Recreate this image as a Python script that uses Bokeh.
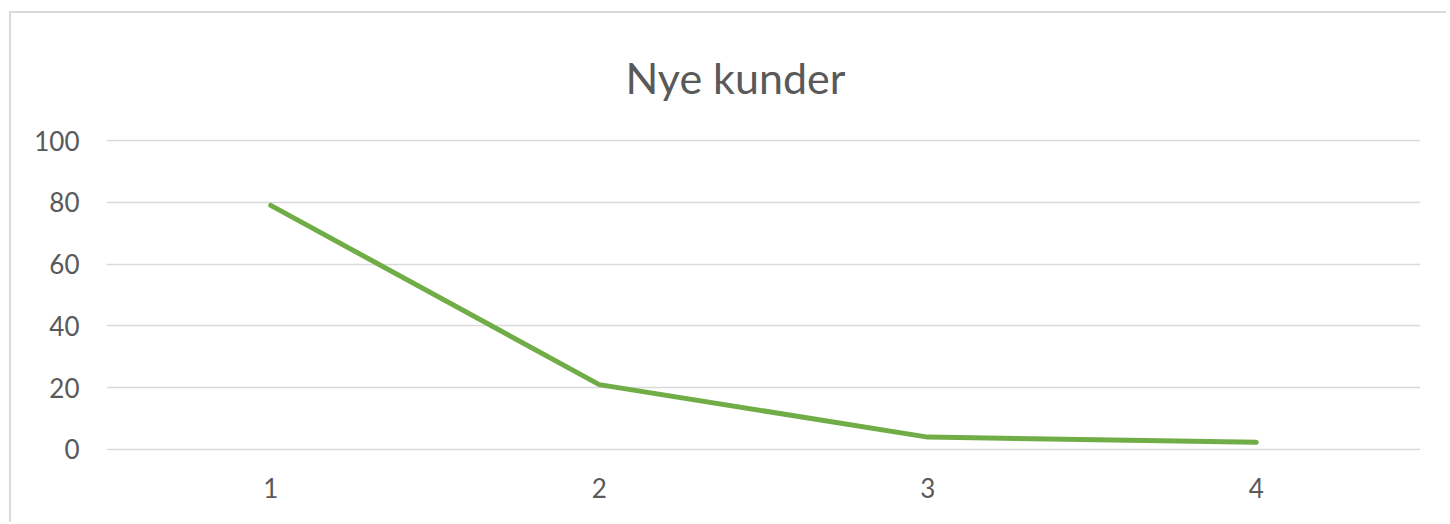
from bokeh.plotting import figure
from bokeh.embed import file_html
from bokeh.resources import INLINE
from bokeh.models import Range1d, FactorRange

categories = ["1", "2", "3", "4"]
values = [79, 21, 4, 2.3]
y_ticks = [0, 20, 40, 60, 80, 100]
title_text = "Nye kunder"

FONT = "Lato"
GRAY = "#595959"

p = figure(
    width=1437, height=511,
    x_range=FactorRange(*categories, range_padding=0),
    y_range=Range1d(-0.33, 100.33),
    output_backend="svg", toolbar_location=None,
    min_border_left=95, min_border_right=28, min_border_top=126, min_border_bottom=74,
    title=title_text,
)
p.styles = {
    "border-top": "2px solid #d9d9d9",
    "border-left": "2px solid #d9d9d9",
    "margin-left": "9px",
    "margin-top": "11px",
}
p.title.align = "left"
p.title.vertical_align = "top"
p.title.offset = 519
p.title.standoff = 70
p.title.text_font = FONT
p.title.text_font_size = "43px"
p.title.text_font_style = "normal"
p.title.text_color = GRAY

p.line(categories, values, line_color="#70AD47", line_width=5, line_cap="round", line_join="round")

p.outline_line_color = None
p.background_fill_color = "white"
p.border_fill_color = "white"

p.xgrid.grid_line_color = None
p.ygrid.grid_line_color = "#d9d9d9"
p.ygrid.grid_line_width = 1.5
p.yaxis.ticker = y_ticks

for ax in (p.xaxis, p.yaxis):
    ax.axis_line_color = None
    ax.major_tick_line_color = None
    ax.minor_tick_line_color = None
    ax.major_label_text_font = FONT
    ax.major_label_text_font_size = "26px"
    ax.major_label_text_color = GRAY

p.xaxis.major_label_standoff = 21
p.yaxis.major_label_standoff = 21

open("out.html", "w").write(file_html(p, INLINE))
